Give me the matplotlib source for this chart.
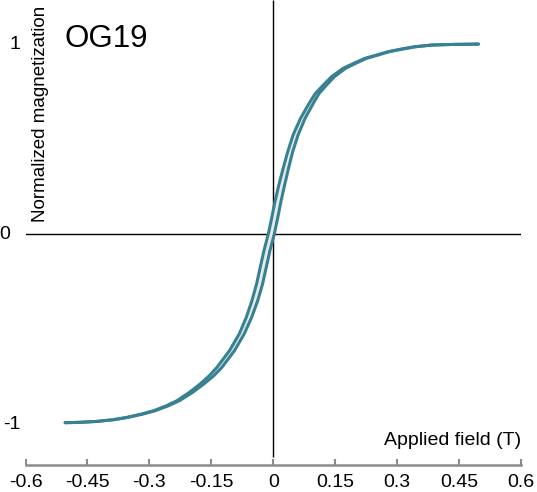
import numpy as np
import matplotlib
matplotlib.use('Agg')
from matplotlib import pyplot as plt

plt.rcParams['font.family'] = ['Liberation Sans', 'DejaVu Sans']

# magnetization levels shared by both branches of the loop
magnetization = [-0.993, -0.991, -0.986, -0.977, -0.965, -0.947, -0.930, -0.904, -0.877, -0.833,
                 -0.789, -0.746, -0.702, -0.614, -0.526, -0.439, -0.351, -0.263, -0.175, -0.088,
                 0.0, 0.082, 0.170, 0.258, 0.346, 0.433, 0.521, 0.609, 0.696, 0.740,
                 0.784, 0.828, 0.872, 0.898, 0.925, 0.942, 0.960, 0.974, 0.986, 0.995,
                 0.998, 1.0]
# applied field (T) on the descending branch (coming down from +saturation)
field_down = [-0.504, -0.468, -0.427, -0.387, -0.355, -0.318, -0.290, -0.259, -0.233, -0.203,
              -0.177, -0.155, -0.1365, -0.106, -0.0824, -0.0654, -0.0517, -0.0404, -0.0315, -0.0226,
              -0.012, -0.004, 0.004, 0.0135, 0.024, 0.035, 0.048, 0.066, 0.089, 0.102,
              0.121, 0.141, 0.169, 0.194, 0.222, 0.250, 0.278, 0.311, 0.343, 0.384,
              0.432, 0.497]
# applied field (T) on the ascending branch
field_up = [-0.504, -0.467, -0.425, -0.385, -0.352, -0.315, -0.286, -0.254, -0.227, -0.195,
            -0.168, -0.144, -0.1245, -0.094, -0.0704, -0.0524, -0.0377, -0.0259, -0.017, -0.0081,
            0.0025, 0.0105, 0.0185, 0.0275, 0.037, 0.047, 0.060, 0.077, 0.099, 0.111,
            0.129, 0.148, 0.175, 0.199, 0.226, 0.253, 0.281, 0.313, 0.345, 0.385,
            0.433, 0.497]

x_ticks = [-0.6, -0.45, -0.3, -0.15, 0, 0.15, 0.3, 0.45, 0.6]
x_labels = ['-0.6', '-0.45', '-0.3', '-0.15', '0', '0.15', '0.3', '0.45', '0.6']

line_color = '#388192'
fill_color = '#e4ece8'

fig = plt.figure(figsize=(5.37, 4.92), dpi=100)
ax = fig.add_axes([25.5 / 537, (492 - 464.5) / 492, 495.5 / 537, 464.5 / 492])
ax.set_xlim(-0.6, 0.6)
ax.set_ylim(-1.213, 1.232)

# loop: light fill between the branches, then the two branches
ax.fill_betweenx(magnetization, field_down, field_up, color=fill_color, lw=0, zorder=2)
ax.plot(field_down, magnetization, color=line_color, lw=2.2, solid_capstyle='round',
        solid_joinstyle='round', zorder=3)
ax.plot(field_up, magnetization, color=line_color, lw=2.2, solid_capstyle='round',
        solid_joinstyle='round', zorder=3)

# axes crossing at the origin
ax.axhline(0, color='black', lw=1.0, zorder=1)
ax.vlines(0, -1.174, 1.232, color='black', lw=1.0, zorder=1)

for side in ['top', 'right', 'left']:
    ax.spines[side].set_visible(False)
ax.spines['bottom'].set_color('#8c8c8c')
ax.spines['bottom'].set_linewidth(1.8)

ax.set_xticks(x_ticks)
ax.set_xticklabels(x_labels)
ax.tick_params(axis='x', direction='in', length=4.5, width=1.5, color='#8c8c8c',
               pad=7, labelsize=14)
ax.set_yticks([])

# y labels sit outside the axes on the left
ytr = ax.get_yaxis_transform()
ax.text(-0.0101, 1, '1', transform=ytr, ha='right', va='center', fontsize=14, clip_on=False)
ax.text(-0.0313, 0, '0', transform=ytr, ha='right', va='center', fontsize=14, clip_on=False)
ax.text(-0.0101, -1, '-1', transform=ytr, ha='right', va='center', fontsize=14, clip_on=False)

ax.text(1.0, 0.0527, 'Applied field (T)', transform=ax.transAxes, ha='right', va='center',
        fontsize=14)
ax.text(0.0293, 0.522, 'Normalized magnetization', transform=ax.transAxes, rotation=90,
        ha='center', va='bottom', fontsize=13.5)
ax.text(0.0797, 0.899, 'OG19', transform=ax.transAxes, ha='left', va='baseline', fontsize=22.5)

fig.savefig('out.png', dpi=100)
